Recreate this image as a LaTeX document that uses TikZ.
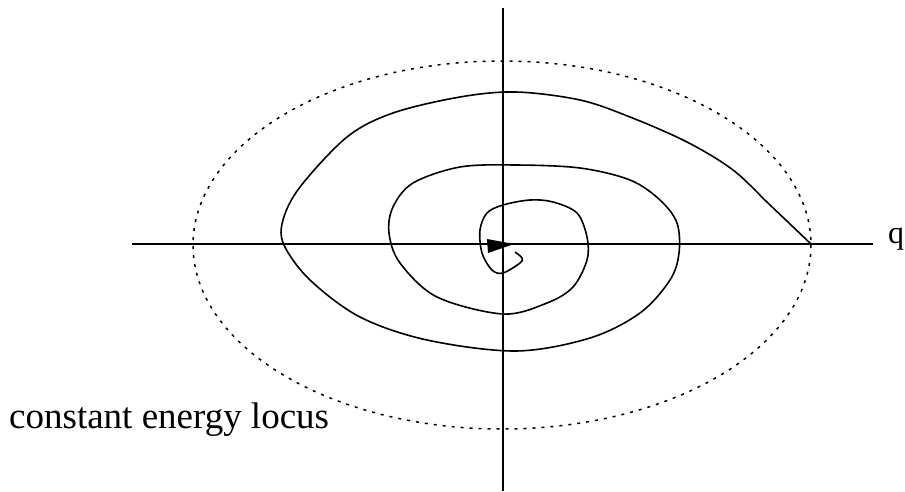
\documentclass[tikz,border=0pt]{standalone}
\usepackage{fontspec}
\setmainfont{Liberation Serif}
\begin{document}
\begin{tikzpicture}[x=1pt,y=-1pt,
  axis/.style={line width=1.6pt},
  locus/.style={line width=1.5pt, dash pattern=on 3pt off 6pt},
  orbit/.style={line width=1.6pt, line join=round},
  lbl/.style={inner sep=0pt, font=\fontsize{37}{40}\selectfont},
  qlbl/.style={inner sep=0pt, font=\fontsize{32}{36}\selectfont}]
\useasboundingbox (0,0) rectangle (905,491);
% axes
\draw[axis] (132,244) -- (873,244);
\draw[axis] (503,8) -- (503,491);
% constant energy locus
\draw[locus] (502,245) ellipse [x radius=309, y radius=184];
% spiral
\draw[orbit] plot[smooth, tension=0.55] coordinates {
 (811,244) (770,205) (733,170) (687,142) (630,117) (580,100) (516,92)
 (460,97) (393,113) (347,137) (300,187) (283,220) (284,245) (310,280) (360,317)
 (427,340) (516,351) (590,338) (640,313) (670,280) (679,253) (677,223)
 (660,200) (630,180) (580,168) (516,165) (460,167) (413,183) (393,207)
 (389,233) (400,263) (437,297) (503,314) (547,303) (573,287) (587,260) (587,237)
 (577,213) (553,202) (530,200) (503,205) (487,213) (480,230) (482,253) (492,270)
 (503,273) (520,263) (522,258) (515,252)};
% arrowhead at origin
\fill (487,239) -- (514,244) -- (488,253) -- cycle;
% labels
\node[qlbl, anchor=base west] (q) at (888,243) {q};
\node[lbl, anchor=base west] (cel) at (9,428) {constant energy locus};
\end{tikzpicture}
\end{document}
